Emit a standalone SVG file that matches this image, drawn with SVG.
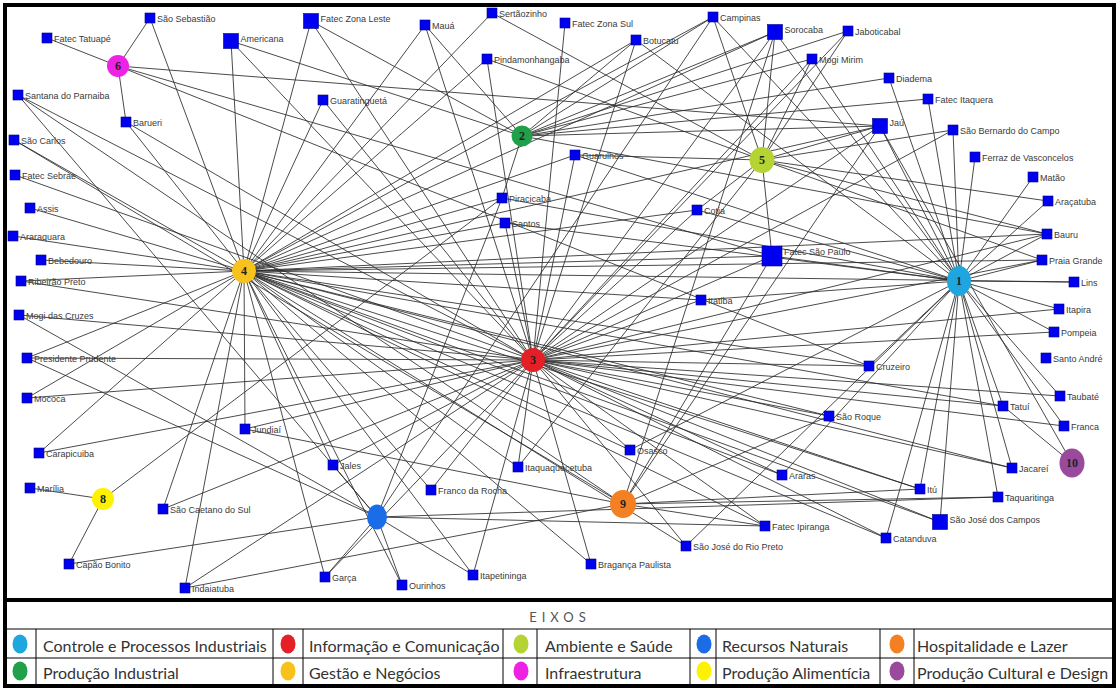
<svg xmlns="http://www.w3.org/2000/svg" width="1120" height="692" viewBox="0 0 1120 692">
<style>
.e{stroke:#2a2a2a;stroke-width:0.85;fill:none}
.c rect{fill:#0000f0;stroke:#00008a;stroke-width:0.6}
.c text{font-family:"Liberation Sans",Arial,sans-serif;font-size:9px;fill:#3a3a3a}
.h text{font-family:"Liberation Serif","Times New Roman",serif;font-weight:bold;font-size:12px;fill:#222;text-anchor:middle}
.lg{font-family:Lato,"Liberation Sans",sans-serif;font-size:16px;fill:#333}
.tl{stroke:#000;stroke-width:1;fill:none}
</style>
<rect x="0" y="0" width="1120" height="692" fill="#fff"/>
<g id="connectors" class="e">
<path id="e-h1" d="M959 281L775 32M959 281L812 59M959 281L889 78M959 281L928 99M959 281L880 126M959 281L953 130M959 281L975 157M959 281L1033 177M959 281L1048 201M959 281L1047 234M959 281L1042 260M959 281L1074 282M959 281L1059 309M959 281L1054 332M959 281L1060 396M959 281L1003 406M959 281L1064 426M959 281L1012 468M959 281L998 497M959 281L940 522M959 281L886 538M959 281L920 489M959 281L869 366M959 281L772 256M959 281L636 40M959 281L713 17M959 281L575 155M959 281L505 223M959 281L697 210M959 281L701 300M959 281L782 475M959 281L686 546M959 281L502 198M959 281L630 450"/>
<path id="e-h2" d="M522 136L231 41M522 136L311 21M522 136L425 25M522 136L502 198M522 136L636 40M522 136L713 17M522 136L775 32M522 136L812 59M522 136L880 126M522 136L889 78M522 136L928 99M522 136L1047 234M522 136L848 31"/>
<path id="e-h3" d="M533 360L231 41M533 360L311 21M533 360L425 25M533 360L565 23M533 360L487 59M533 360L323 100M533 360L636 40M533 360L848 31M533 360L812 59M533 360L18 95M533 360L15 175M533 360L19 315M533 360L27 358M533 360L27 398M533 360L39 453M533 360L163 509M533 360L185 588M533 360L245 429M533 360L505 223M533 360L575 155M533 360L697 210M533 360L701 300M533 360L772 256M533 360L953 130M533 360L1042 260M533 360L1059 309M533 360L1054 332M533 360L1060 396M533 360L1003 406M533 360L1064 426M533 360L1012 468M533 360L869 366M533 360L829 416M533 360L782 475M533 360L920 489M533 360L886 538M533 360L940 522M533 360L765 526M533 360L686 546M533 360L591 564M533 360L473 575M533 360L431 490M533 360L518 467M533 360L630 450M533 360L333 465M533 360L126 122M533 360L21 281M533 360L1047 234M533 360L880 126M533 360L775 32M533 360L325 577"/>
<path id="e-h4" d="M244 271L150 18M244 271L231 41M244 271L311 21M244 271L425 25M244 271L492 13M244 271L323 100M244 271L126 122M244 271L487 59M244 271L713 17M244 271L775 32M244 271L880 126M244 271L636 40M244 271L30 208M244 271L13 236M244 271L41 260M244 271L21 281M244 271L14 140M244 271L27 358M244 271L27 398M244 271L39 453M244 271L163 509M244 271L185 588M244 271L245 429M244 271L325 577M244 271L333 465M244 271L431 490M244 271L473 575M244 271L591 564M244 271L630 450M244 271L686 546M244 271L765 526M244 271L782 475M244 271L920 489M244 271L940 522M244 271L886 538M244 271L829 416M244 271L1012 468M244 271L869 366M244 271L701 300M244 271L1074 282M244 271L1042 260M244 271L772 256M244 271L697 210M244 271L505 223M244 271L502 198M244 271L575 155M244 271L1003 406M244 271L518 467M244 271L1047 234M244 271L402 585"/>
<path id="e-h5" d="M762 160L775 32M762 160L812 59M762 160L848 31M762 160L492 13M762 160L487 59M762 160L575 155M762 160L880 126M762 160L1048 201M762 160L1047 234M762 160L772 256M762 160L697 210M762 160L518 467M762 160L953 130M762 160L713 17M762 160L1042 260"/>
<path id="e-h6" d="M118 66L150 18M118 66L47 38M118 66L126 122M118 66L880 126M118 66L772 256M118 66L869 366"/>
<path id="e-h7" d="M377 517L27 358M377 517L19 315M377 517L69 564M377 517L18 95M377 517L333 465M377 517L325 577M377 517L402 585M377 517L473 575M377 517L998 497M377 517L765 526M377 517L713 17M377 517L502 198"/>
<path id="e-h8" d="M103 499L30 488M103 499L69 564M103 499L502 198"/>
<path id="e-h9" d="M623 504L772 256M623 504L829 416M623 504L920 489M623 504L998 497M623 504L765 526M623 504L245 429M623 504L185 588M623 504L14 140M623 504L18 95M623 504L880 126M623 504L775 32"/>
<path id="e-h10" d="M1072 463L1003 406M1072 463L880 126"/>
</g>
<g id="cities" class="c">
<g id="n-sao-sebastiao"><rect x="145" y="13" width="10" height="10"/><text x="157" y="21.5">São Sebastião</text></g>
<g id="n-fatec-tatuape"><rect x="42" y="33" width="10" height="10"/><text x="54" y="41.5">Fatec Tatuapé</text></g>
<g id="n-americana"><rect x="223.5" y="33.5" width="15" height="15"/><text x="240.5" y="42">Americana</text></g>
<g id="n-fatec-zona-leste"><rect x="303.5" y="13.5" width="15" height="15"/><text x="320.5" y="22">Fatec Zona Leste</text></g>
<g id="n-maua"><rect x="420" y="20" width="10" height="10"/><text x="432" y="28.5">Mauá</text></g>
<g id="n-sertaozinho"><rect x="487" y="8" width="10" height="10"/><text x="499" y="16.5">Sertãozinho</text></g>
<g id="n-fatec-zona-sul"><rect x="560" y="18" width="10" height="10"/><text x="572" y="26.5">Fatec Zona Sul</text></g>
<g id="n-campinas"><rect x="708" y="12" width="10" height="10"/><text x="720" y="20.5">Campinas</text></g>
<g id="n-sorocaba"><rect x="767.5" y="24.5" width="15" height="15"/><text x="784.5" y="33">Sorocaba</text></g>
<g id="n-jaboticabal"><rect x="843" y="26" width="10" height="10"/><text x="855" y="34.5">Jaboticabal</text></g>
<g id="n-botucatu"><rect x="631" y="35" width="10" height="10"/><text x="643" y="43.5">Botucatu</text></g>
<g id="n-pindamonhangaba"><rect x="482" y="54" width="10" height="10"/><text x="494" y="62.5">Pindamonhangaba</text></g>
<g id="n-mogi-mirim"><rect x="807" y="54" width="10" height="10"/><text x="819" y="62.5">Mogi Mirim</text></g>
<g id="n-diadema"><rect x="884" y="73" width="10" height="10"/><text x="896" y="81.5">Diadema</text></g>
<g id="n-fatec-itaquera"><rect x="923" y="94" width="10" height="10"/><text x="935" y="102.5">Fatec Itaquera</text></g>
<g id="n-santana"><rect x="13" y="90" width="10" height="10"/><text x="25" y="98.5">Santana do Parnaiba</text></g>
<g id="n-guaratingueta"><rect x="318" y="95" width="10" height="10"/><text x="330" y="103.5">Guaratinguetá</text></g>
<g id="n-barueri"><rect x="121" y="117" width="10" height="10"/><text x="133" y="125.5">Barueri</text></g>
<g id="n-jau"><rect x="872.5" y="118.5" width="15" height="15"/><text x="889.5" y="126">Jaú</text></g>
<g id="n-sao-bernardo"><rect x="948" y="125" width="10" height="10"/><text x="960" y="133.5">São Bernardo do Campo</text></g>
<g id="n-sao-carlos"><rect x="9" y="135" width="10" height="10"/><text x="21" y="143.5">São Carlos</text></g>
<g id="n-guarulhos"><rect x="570" y="150" width="10" height="10"/><text x="582" y="158.5">Guarulhos</text></g>
<g id="n-ferraz"><rect x="970" y="152" width="10" height="10"/><text x="982" y="160.5">Ferraz de Vasconcelos</text></g>
<g id="n-fatec-sebrae"><rect x="10" y="170" width="10" height="10"/><text x="22" y="178.5">Fatec Sebrae</text></g>
<g id="n-matao"><rect x="1028" y="172" width="10" height="10"/><text x="1040" y="180.5">Matão</text></g>
<g id="n-piracicaba"><rect x="497" y="193" width="10" height="10"/><text x="509" y="201.5">Piracicaba</text></g>
<g id="n-aracatuba"><rect x="1043" y="196" width="10" height="10"/><text x="1055" y="204.5">Araçatuba</text></g>
<g id="n-assis"><rect x="25" y="203" width="10" height="10"/><text x="37" y="211.5">Assis</text></g>
<g id="n-cotia"><rect x="692" y="205" width="10" height="10"/><text x="704" y="213.5">Cotia</text></g>
<g id="n-santos"><rect x="500" y="218" width="10" height="10"/><text x="512" y="226.5">Santos</text></g>
<g id="n-araraquara"><rect x="8" y="231" width="10" height="10"/><text x="20" y="239.5">Araraquara</text></g>
<g id="n-bauru"><rect x="1042" y="229" width="10" height="10"/><text x="1054" y="237.5">Bauru</text></g>
<g id="n-fatec-sao-paulo"><rect x="762" y="246" width="20" height="20"/><text x="784" y="254.5">Fatec São Paulo</text></g>
<g id="n-bebedouro"><rect x="36" y="255" width="10" height="10"/><text x="48" y="263.5">Bebedouro</text></g>
<g id="n-praia-grande"><rect x="1037" y="255" width="10" height="10"/><text x="1049" y="263.5">Praia Grande</text></g>
<g id="n-ribeirao-preto"><rect x="16" y="276" width="10" height="10"/><text x="28" y="284.5">Ribeirão Preto</text></g>
<g id="n-lins"><rect x="1069" y="277" width="10" height="10"/><text x="1081" y="285.5">Lins</text></g>
<g id="n-itatiba"><rect x="696" y="295" width="10" height="10"/><text x="708" y="303.5">Itatiba</text></g>
<g id="n-itapira"><rect x="1054" y="304" width="10" height="10"/><text x="1066" y="312.5">Itapira</text></g>
<g id="n-mogi-das-cruzes"><rect x="14" y="310" width="10" height="10"/><text x="26" y="318.5">Mogi das Cruzes</text></g>
<g id="n-pompeia"><rect x="1049" y="327" width="10" height="10"/><text x="1061" y="335.5">Pompeia</text></g>
<g id="n-presidente-prudente"><rect x="22" y="353" width="10" height="10"/><text x="34" y="361.5">Presidente Prudente</text></g>
<g id="n-santo-andre"><rect x="1041" y="353" width="10" height="10"/><text x="1053" y="361.5">Santo André</text></g>
<g id="n-cruzeiro"><rect x="864" y="361" width="10" height="10"/><text x="876" y="369.5">Cruzeiro</text></g>
<g id="n-mococa"><rect x="22" y="393" width="10" height="10"/><text x="34" y="401.5">Mococa</text></g>
<g id="n-taubate"><rect x="1055" y="391" width="10" height="10"/><text x="1067" y="399.5">Taubaté</text></g>
<g id="n-tatui"><rect x="998" y="401" width="10" height="10"/><text x="1010" y="409.5">Tatuí</text></g>
<g id="n-sao-roque"><rect x="824" y="411" width="10" height="10"/><text x="836" y="419.5">São Roque</text></g>
<g id="n-franca"><rect x="1059" y="421" width="10" height="10"/><text x="1071" y="429.5">Franca</text></g>
<g id="n-jundiai"><rect x="240" y="424" width="10" height="10"/><text x="252" y="432.5">Jundiaí</text></g>
<g id="n-carapicuiba"><rect x="34" y="448" width="10" height="10"/><text x="46" y="456.5">Carapicuiba</text></g>
<g id="n-osasco"><rect x="625" y="445" width="10" height="10"/><text x="637" y="453.5">Osasco</text></g>
<g id="n-jales"><rect x="328" y="460" width="10" height="10"/><text x="340" y="468.5">Jales</text></g>
<g id="n-itaquaquecetuba"><rect x="513" y="462" width="10" height="10"/><text x="525" y="470.5">Itaquaquecetuba</text></g>
<g id="n-jacarei"><rect x="1007" y="463" width="10" height="10"/><text x="1019" y="471.5">Jacareí</text></g>
<g id="n-araras"><rect x="777" y="470" width="10" height="10"/><text x="789" y="478.5">Araras</text></g>
<g id="n-marilia"><rect x="25" y="483" width="10" height="10"/><text x="37" y="491.5">Marília</text></g>
<g id="n-franco-da-rocha"><rect x="426" y="485" width="10" height="10"/><text x="438" y="493.5">Franco da Rocha</text></g>
<g id="n-itu"><rect x="915" y="484" width="10" height="10"/><text x="927" y="492.5">Itú</text></g>
<g id="n-taquaritinga"><rect x="993" y="492" width="10" height="10"/><text x="1005" y="500.5">Taquaritinga</text></g>
<g id="n-sao-caetano"><rect x="158" y="504" width="10" height="10"/><text x="170" y="512.5">São Caetano do Sul</text></g>
<g id="n-sjc"><rect x="932.5" y="514.5" width="15" height="15"/><text x="949.5" y="523">São José dos Campos</text></g>
<g id="n-fatec-ipiranga"><rect x="760" y="521" width="10" height="10"/><text x="772" y="529.5">Fatec Ipiranga</text></g>
<g id="n-catanduva"><rect x="881" y="533" width="10" height="10"/><text x="893" y="541.5">Catanduva</text></g>
<g id="n-sjrp"><rect x="681" y="541" width="10" height="10"/><text x="693" y="549.5">São José do Rio Preto</text></g>
<g id="n-capao-bonito"><rect x="64" y="559" width="10" height="10"/><text x="76" y="567.5">Capão Bonito</text></g>
<g id="n-braganca"><rect x="586" y="559" width="10" height="10"/><text x="598" y="567.5">Bragança Paulista</text></g>
<g id="n-garca"><rect x="320" y="572" width="10" height="10"/><text x="332" y="580.5">Garça</text></g>
<g id="n-itapetininga"><rect x="468" y="570" width="10" height="10"/><text x="480" y="578.5">Itapetininga</text></g>
<g id="n-ourinhos"><rect x="397" y="580" width="10" height="10"/><text x="409" y="588.5">Ourinhos</text></g>
<g id="n-indaiatuba"><rect x="180" y="583" width="10" height="10"/><text x="192" y="591.5">Indaiatuba</text></g>
</g>
<g id="hubs" class="h">
<g id="hub-1"><ellipse cx="959" cy="281" rx="12" ry="15" fill="#1fa6df"/><text x="959" y="285">1</text></g>
<g id="hub-2"><circle cx="522" cy="136" r="10.5" fill="#21a04a"/><text x="522" y="140">2</text></g>
<g id="hub-3"><circle cx="533" cy="360" r="12" fill="#e41f26"/><text x="533" y="364">3</text></g>
<g id="hub-4"><circle cx="244" cy="271" r="12" fill="#f7c21c"/><text x="244" y="275">4</text></g>
<g id="hub-5"><ellipse cx="762" cy="160" rx="12.5" ry="13" fill="#b5d333"/><text x="762" y="164">5</text></g>
<g id="hub-6"><circle cx="118" cy="66" r="11" fill="#ee22e4"/><text x="118" y="70">6</text></g>
<g id="hub-7"><ellipse cx="377" cy="517" rx="10" ry="12.5" fill="#1a6de6"/></g>
<g id="hub-8"><circle cx="103" cy="499" r="11" fill="#fff200"/><text x="103" y="503">8</text></g>
<g id="hub-9"><ellipse cx="623" cy="504" rx="13" ry="14" fill="#f48024"/><text x="623" y="508">9</text></g>
<g id="hub-10"><ellipse cx="1072" cy="463" rx="12.5" ry="14.5" fill="#9a4a9c"/><text x="1072" y="467">10</text></g>
</g>
<rect x="5" y="5" width="1109" height="595" fill="none" stroke="#000" stroke-width="4"/>
<g id="legend">
<rect x="5" y="600" width="1109" height="86" fill="none" stroke="#000" stroke-width="4"/>
<text x="560" y="622" text-anchor="middle" font-family="Lato,'Liberation Sans',sans-serif" font-size="13" letter-spacing="5" fill="#555">EIXOS</text>
<path class="tl" d="M5 629H1114M5 658H1114M36 629V686M273 629V686M303 629V686M503 629V686M537 629V686M690 629V686M716 629V686M880 629V686M914 629V686"/>
<ellipse cx="20" cy="644" rx="7.5" ry="9.5" fill="#1fa6df"/><text class="lg" x="43" y="652">Controle e Processos Industriais</text>
<ellipse cx="20" cy="671" rx="7.5" ry="9.5" fill="#21a04a"/><text class="lg" x="43" y="679">Produção Industrial</text>
<ellipse cx="288" cy="644" rx="7.5" ry="9.5" fill="#e41f26"/><text class="lg" x="309" y="652">Informação e Comunicação</text>
<ellipse cx="288" cy="671" rx="7.5" ry="9.5" fill="#f7c21c"/><text class="lg" x="309" y="679">Gestão e Negócios</text>
<ellipse cx="521" cy="644" rx="7.5" ry="9.5" fill="#b5d333"/><text class="lg" x="545" y="652">Ambiente e Saúde</text>
<ellipse cx="521" cy="671" rx="7.5" ry="9.5" fill="#ee22e4"/><text class="lg" x="545" y="679">Infraestrutura</text>
<ellipse cx="704" cy="644" rx="7.5" ry="9.5" fill="#1a6de6"/><text class="lg" x="722" y="652">Recursos Naturais</text>
<ellipse cx="704" cy="671" rx="7.5" ry="9.5" fill="#fff200"/><text class="lg" x="722" y="679">Produção Alimentícia</text>
<ellipse cx="897" cy="644" rx="7.5" ry="9.5" fill="#f48024"/><text class="lg" x="917" y="652">Hospitalidade e Lazer</text>
<ellipse cx="897" cy="671" rx="7.5" ry="9.5" fill="#9a4a9c"/><text class="lg" x="917" y="679">Produção Cultural e Design</text>
</g>
</svg>
